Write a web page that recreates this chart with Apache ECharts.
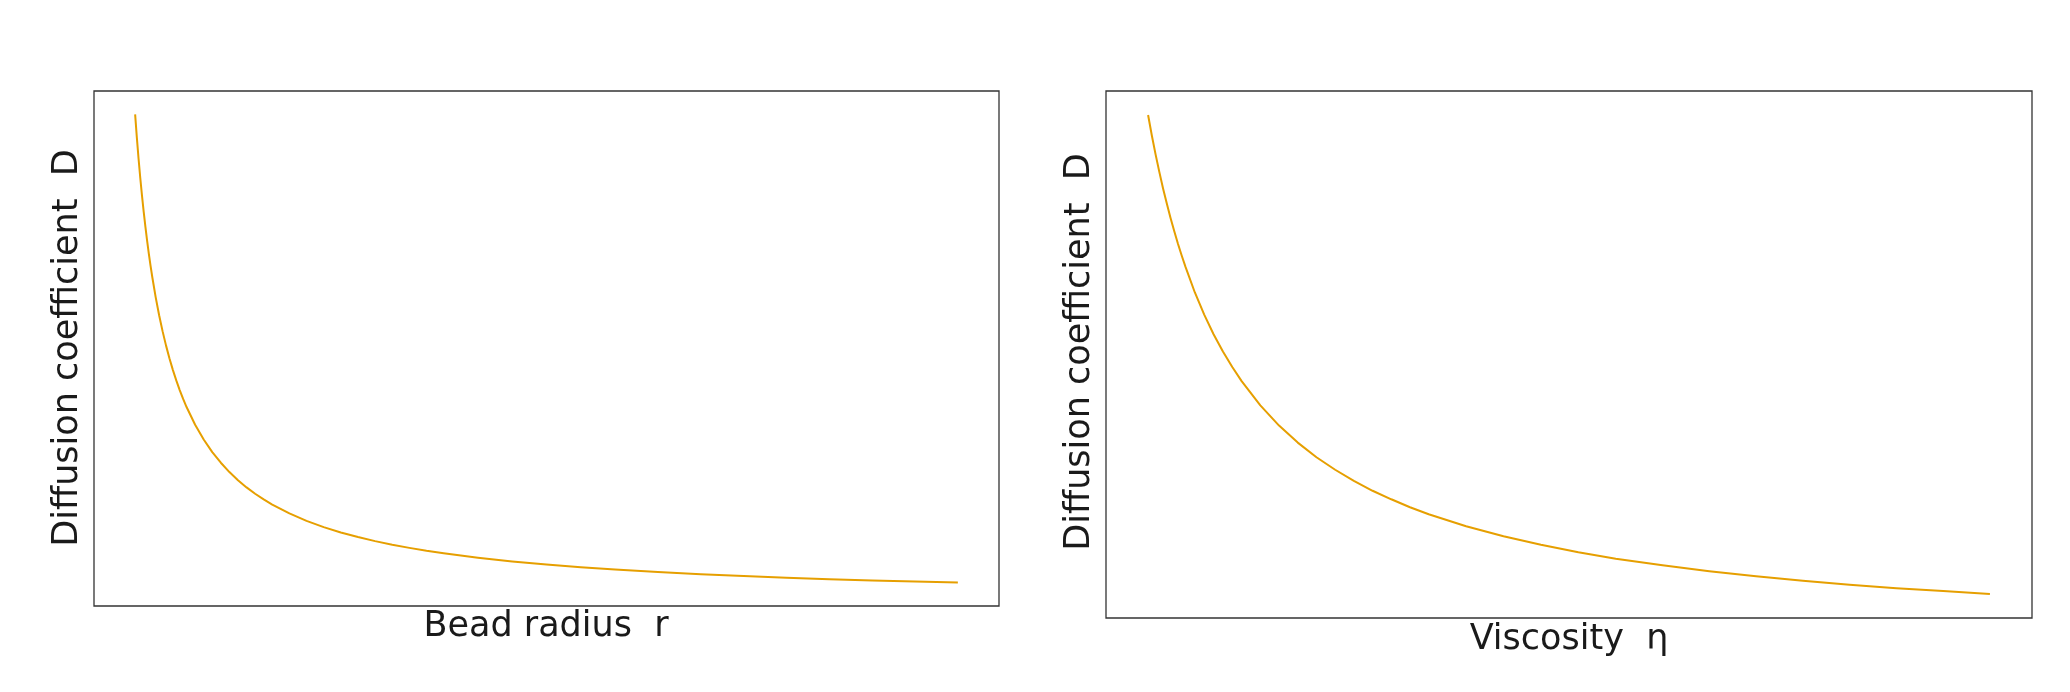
<!DOCTYPE html>
<html>
<head>
<meta charset="utf-8">
<script src="https://cdn.jsdelivr.net/npm/echarts@6/dist/echarts.min.js"></script>
<style>
html,body{margin:0;padding:0;background:#fff;}
#chart{width:2070px;height:692px;}
</style>
</head>
<body>
<div id="chart"></div>
<script>
// Left panel: bead radius r vs diffusion coefficient D (arbitrary units)
const radius = [0.20,0.21,0.22,0.23,0.24,0.25,0.26,0.27,0.28,0.29,0.30,0.32,0.34,0.36,0.38,0.40,0.42,0.44,0.46,0.48,0.50,0.55,0.60,0.65,0.70,0.75,0.80,0.85,0.90,0.95,1.0,1.1,1.2,1.3,1.4,1.5,1.6,1.7,1.8,1.9,2.0,2.2,2.4,2.6,2.8,3.0,3.25,3.5,3.75,4.0,4.25,4.5,4.75,5.0];
const diffR  = [5.000,4.762,4.545,4.348,4.167,4.000,3.846,3.704,3.571,3.448,3.333,3.125,2.941,2.778,2.632,2.500,2.381,2.273,2.174,2.083,2.000,1.818,1.667,1.538,1.429,1.333,1.250,1.176,1.111,1.053,1.000,0.909,0.833,0.769,0.714,0.667,0.625,0.588,0.556,0.526,0.500,0.455,0.417,0.385,0.357,0.333,0.308,0.286,0.267,0.250,0.235,0.222,0.211,0.200];
// Right panel: viscosity eta vs diffusion coefficient D
const viscosity = [0.50,0.52,0.54,0.56,0.58,0.60,0.62,0.64,0.66,0.68,0.70,0.75,0.80,0.85,0.90,0.95,1.00,1.1,1.2,1.3,1.4,1.5,1.6,1.7,1.8,1.9,2.0,2.2,2.4,2.6,2.8,3.0,3.25,3.5,3.75,4.0,4.25,4.5,4.75,5.0];
const diffEta   = [2.000,1.923,1.852,1.786,1.724,1.667,1.613,1.563,1.515,1.471,1.429,1.333,1.250,1.176,1.111,1.053,1.000,0.909,0.833,0.769,0.714,0.667,0.625,0.588,0.556,0.526,0.500,0.455,0.417,0.385,0.357,0.333,0.308,0.286,0.267,0.250,0.235,0.222,0.211,0.200];

const labels = {
  leftX: 'Bead radius  r',
  rightX: 'Viscosity  η',
  y: 'Diffusion coefficient  D'
};

const LINE = '#E69F00';
const TEXT = '#1a1a1a';
const FONT = '"DejaVu Sans", sans-serif';

const chart = echarts.init(document.getElementById('chart'), null, {renderer: 'canvas'});

function pairs(xs, ys) { return xs.map((x, i) => [x, ys[i]]); }

const hiddenAxis = {
  type: 'value', scale: true,
  axisLine: {show: false}, axisTick: {show: false},
  axisLabel: {show: false}, splitLine: {show: false}
};

chart.setOption({
  animation: false,
  backgroundColor: '#fff',
  grid: [
    {left: 94, top: 91, width: 905, height: 515, show: true, borderColor: '#333', borderWidth: 1.3, backgroundColor: 'transparent'},
    {left: 1106, top: 91, width: 926, height: 527, show: true, borderColor: '#333', borderWidth: 1.3, backgroundColor: 'transparent'}
  ],
  xAxis: [
    Object.assign({}, hiddenAxis, {gridIndex: 0, min: -0.04, max: 5.24}),
    Object.assign({}, hiddenAxis, {gridIndex: 1, min: 0.275, max: 5.225})
  ],
  yAxis: [
    Object.assign({}, hiddenAxis, {gridIndex: 0, min: -0.04, max: 5.24}),
    Object.assign({}, hiddenAxis, {gridIndex: 1, min: 0.11, max: 2.09})
  ],
  series: [
    {type: 'line', xAxisIndex: 0, yAxisIndex: 0, data: pairs(radius, diffR), showSymbol: false,
     smooth: false, lineStyle: {color: LINE, width: 2, join: 'round'}},
    {type: 'line', xAxisIndex: 1, yAxisIndex: 1, data: pairs(viscosity, diffEta), showSymbol: false,
     smooth: false, lineStyle: {color: LINE, width: 2, join: 'round'}}
  ],
  graphic: [
    {type: 'text', x: 546, y: 627, style: {text: labels.leftX, fill: TEXT, font: '35px ' + FONT, align: 'center', verticalAlign: 'middle'}},
    {type: 'text', x: 1569, y: 640, style: {text: labels.rightX, fill: TEXT, font: '35px ' + FONT, align: 'center', verticalAlign: 'middle'}},
    {type: 'text', x: 68, y: 348, rotation: Math.PI / 2, style: {text: labels.y, fill: TEXT, font: '35px ' + FONT, align: 'center', verticalAlign: 'middle'}},
    {type: 'text', x: 1080, y: 352, rotation: Math.PI / 2, style: {text: labels.y, fill: TEXT, font: '35px ' + FONT, align: 'center', verticalAlign: 'middle'}}
  ]
});
</script>
</body>
</html>
